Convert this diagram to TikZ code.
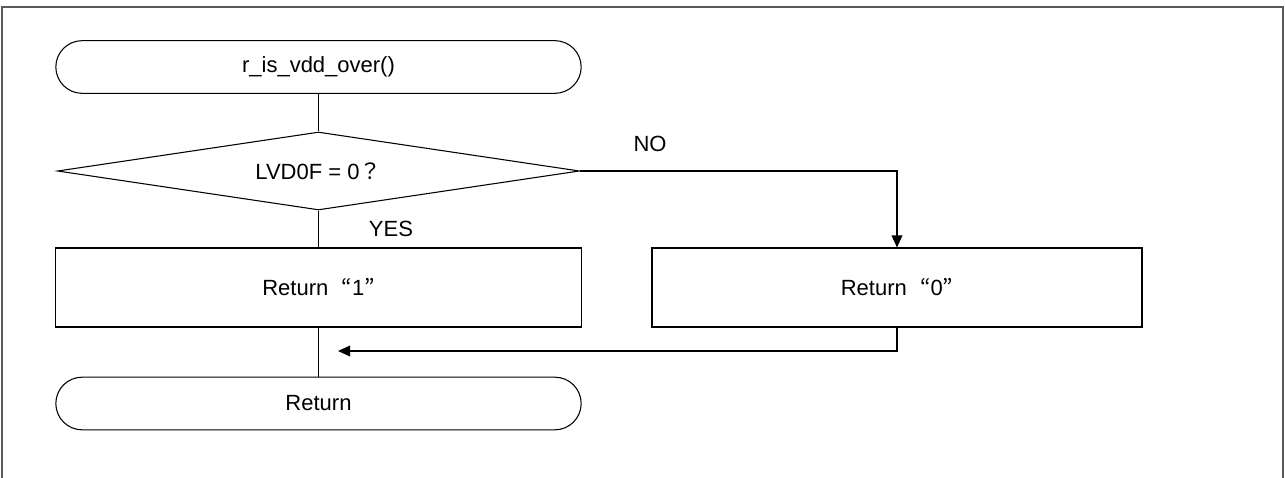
\documentclass[tikz,border=0pt]{standalone}
\usepackage{fontspec}
\setmainfont{Liberation Sans}
\newfontfamily\cjk{Noto Sans CJK JP}
\usetikzlibrary{shapes.geometric,shapes.misc,arrows.meta}

\begin{document}
\begin{tikzpicture}[
  x=0.75pt, y=-0.75pt,
  font=\fontsize{16.5}{20}\selectfont,
  terminal/.style={draw=black,line width=0.8pt,rounded rectangle,
    minimum width=394pt,minimum height=39.5pt,inner sep=0pt},
  process/.style={draw=black,line width=0.8pt,rectangle,
    minimum height=59.25pt,inner sep=0pt},
  decision/.style={draw=black,line width=0.8pt,diamond,aspect=6.7,
    minimum width=391.5pt,minimum height=58.5pt,inner sep=0pt},
  flow/.style={draw=black,line width=1pt},
  flowarrow/.style={flow,-{Triangle[length=9pt,width=8pt]}}
]
  \useasboundingbox (0,0) rectangle (1285,478);
  \draw[draw=black!65,line width=0.8pt] (2,478) -- (2,7) -- (1283,7) -- (1283,478);

  \node[terminal] (start) at (318.5, 67) {r\_is\_vdd\_over()};
  \node[decision] (cond) at (318.5, 171) {LVD0F = 0{\cjk ？}};
  \node[process, minimum width=394pt] (ret1) at (318.5, 287.5)
    {Return\hspace{0.6em}{\cjk “}1{\cjk ”}\hspace{0.5em}};
  \node[process, minimum width=367.5pt] (ret0) at (897, 287.5)
    {Return\hspace{0.6em}{\cjk “}0{\cjk ”}\hspace{0.5em}};
  \node[terminal] (stop) at (318.5, 403.5) {Return};

  \node (no)  at (650, 144) {NO};
  \node (yes) at (391, 229) {YES};

  \coordinate (join) at (338, 351);

  \draw[flow] (start.south) -- (cond.north);
  \draw[flow] (cond.south) -- (ret1.north);
  \draw[flowarrow] (cond.east) -| (ret0.north);
  \draw[flowarrow] (ret0.south) |- (join);
  \draw[flow] (ret1.south) -- (stop.north);
\end{tikzpicture}
\end{document}
